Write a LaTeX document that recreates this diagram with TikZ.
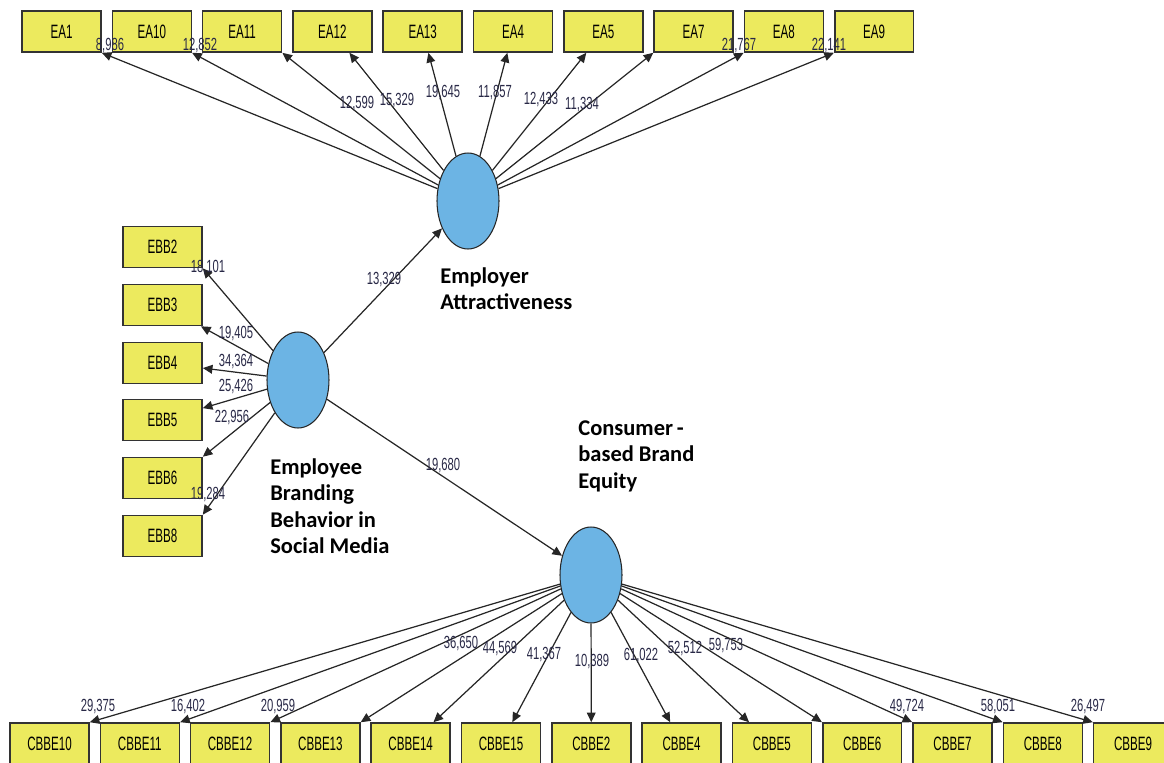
\documentclass[tikz,border=0pt]{standalone}
\usepackage{fontspec}
\setmainfont{Liberation Sans}
\newfontfamily\boxfont[FakeStretch=0.6]{Liberation Sans}
\newfontfamily\valfont[FakeStretch=0.64]{Liberation Sans}
\newfontfamily\latfont{Carlito}
\usetikzlibrary{shapes.geometric,arrows.meta}
\definecolor{boxyellow}{RGB}{236,234,94}
\definecolor{latblue}{RGB}{108,180,228}
\definecolor{valink}{RGB}{40,40,70}
\tikzset{
  indicator/.style={draw=black!80,line width=0.9pt,fill=boxyellow,minimum width=1.58cm,minimum height=0.82cm,inner sep=0pt,font=\boxfont\fontsize{11}{13}\selectfont},
  latent/.style={ellipse,draw=black!85,line width=0.6pt,fill=latblue,minimum width=1.24cm,minimum height=1.92cm,inner sep=0pt},
  latname/.style={anchor=north west,inner sep=0pt,align=left,font=\latfont\bfseries\fontsize{12.8}{15.1}\selectfont},
  loading/.style={draw=black!85,line width=0.7pt,-{Triangle[length=5.5pt,width=5pt]}},
  tval/.style={inner sep=0pt,text=valink,font=\valfont\fontsize{10}{11}\selectfont}
}
\begin{document}
\begin{tikzpicture}[x=0.02cm,y=-0.02cm]
	\useasboundingbox (0,0) rectangle (1164,762);
	\clip (0,0) rectangle (1164,762);
	% latent variables
	\node[latent] (EA) at (468,201) {};
	\node[latent] (EBB) at (298,380) {};
	\node[latent] (CBBE) at (591,575) {};
	\node[latname] (EA-name) at (440,267) {Employer\\Attractiveness};
	\node[latname] (CBBE-name) at (578,420) {Consumer\,-\\based Brand\\Equity};
	\node[latname] (EBB-name) at (270,458) {Employee\\Branding\\Behavior in\\Social Media};
	% indicators
	\foreach \n [count=\i from 0] in {EA1,EA10,EA11,EA12,EA13,EA4,EA5,EA7,EA8,EA9}
		\node[indicator] (\n) at (61.5+90.3*\i,31.5) {\n};
	\foreach \n/\y in {EBB2/247,EBB3/305,EBB4/363,EBB5/420,EBB6/478,EBB8/536}
		\node[indicator] (\n) at (162.5,\y) {\n};
	\foreach \n [count=\i from 0] in {CBBE10,CBBE11,CBBE12,CBBE13,CBBE14,CBBE15,CBBE2,CBBE4,CBBE5,CBBE6,CBBE7,CBBE8,CBBE9}
		\node[indicator] (\n) at (49.5+90.3*\i,743.5) {\n};
	% paths
	\draw[loading] (EBB) -- (EA);
	\draw[loading] (EBB) -- (CBBE);
	\node[tval] (v-EA) at (384,279) {13,329};
	\node[tval] (v-CBBE) at (443,465) {19,680};
	% loadings
	\foreach \t/\v/\lx/\ly [count=\k] in {EA1.south east/{8,986}/110/45,EA10.south east/{12,852}/200/45,EA11.south east/{12,599}/357/103,EA12/{15,329}/397/100,EA13/{19,645}/443/92,EA4/{11,857}/495/92,EA5/{12,433}/541/99,EA7.south west/{11,334}/582/104,EA8.south west/{21,767}/739/45,EA9.south west/{22,141}/829/45}{
		\draw[loading] (EA) -- (\t);
		\node[tval] (va-\k) at (\lx,\ly) {\v};
	}
	\foreach \t/\v/\lx/\ly [count=\k] in {EBB2.south east/{18,101}/208/267,EBB3/{19,405}/236/333,EBB4/{34,364}/236/361,EBB5/{25,426}/236/386,EBB6.north east/{22,956}/232/417,EBB8.north east/{19,284}/208/494}{
		\draw[loading] (EBB) -- (\t);
		\node[tval] (vb-\k) at (\lx,\ly) {\v};
	}
	\foreach \t/\v/\lx/\ly [count=\k] in {CBBE10.north east/{29,375}/98/706,CBBE11.north east/{16,402}/188/706,CBBE12.north east/{20,959}/278/706,CBBE13.north east/{36,650}/461/643,CBBE14/{44,569}/500/648,CBBE15/{41,367}/544/654,CBBE2/{10,389}/592/661,CBBE4/{61,022}/641/655,CBBE5/{52,512}/685/648,CBBE6.north west/{59,753}/726/645,CBBE7.north west/{49,724}/907/706,CBBE8.north west/{58,051}/998/706,CBBE9.north west/{26,497}/1088/706}{
		\draw[loading] (CBBE) -- (\t);
		\node[tval] (vc-\k) at (\lx,\ly) {\v};
	}
\end{tikzpicture}
\end{document}
